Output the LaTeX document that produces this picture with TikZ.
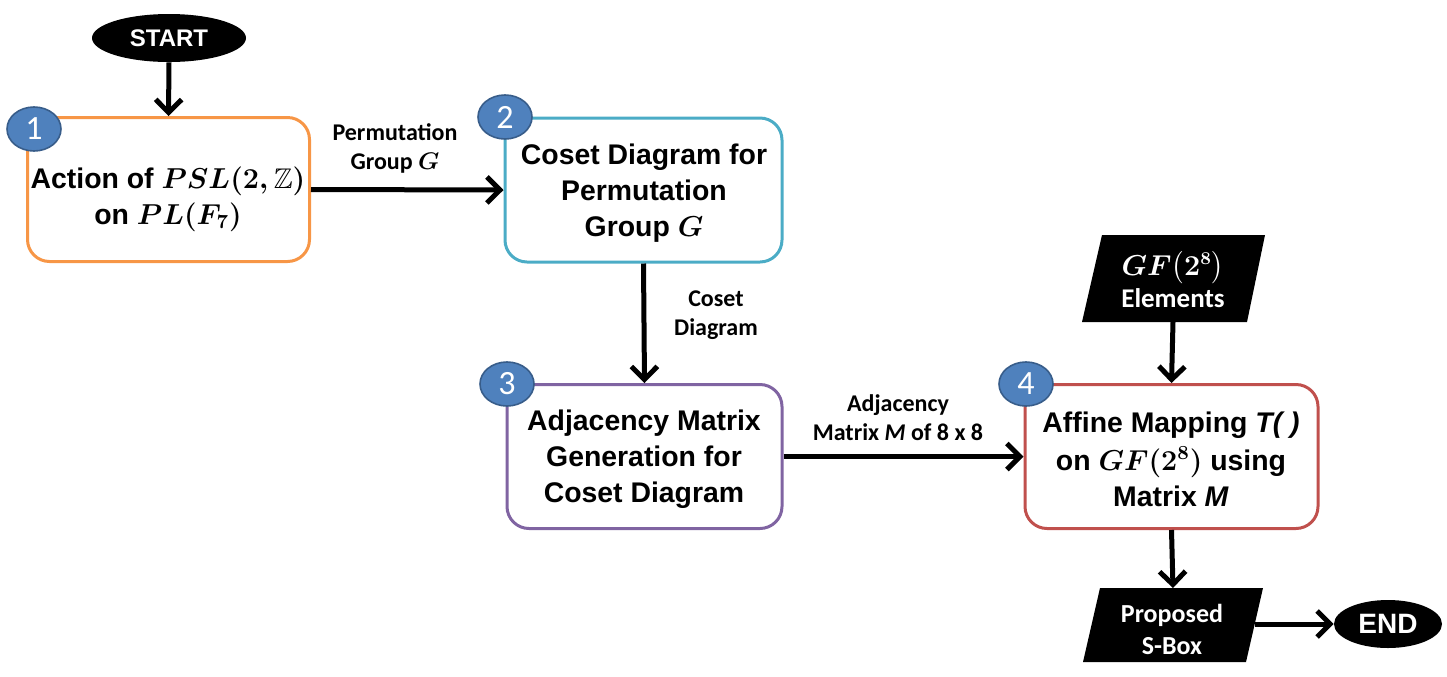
\documentclass[tikz,border=0pt]{standalone}
\usepackage{amsmath,amssymb}
\usepackage{fontspec}
\setmainfont{Liberation Sans}
\newfontfamily\calfont{Carlito}
\usetikzlibrary{arrows.meta,shapes.geometric}
\definecolor{cOrange}{HTML}{F79646}
\definecolor{cBlue}{HTML}{4BACC6}
\definecolor{cPurple}{HTML}{8064A2}
\definecolor{cRed}{HTML}{C0504D}
\definecolor{numBlue}{HTML}{4F81BD}
\definecolor{numEdge}{HTML}{385D8A}
\begin{document}
\begin{tikzpicture}[x=0.5pt,y=-0.5pt,
  proc/.style={draw, rounded corners=11pt, line width=1.5pt, fill=white,
    minimum width=141pt, minimum height=72pt, inner sep=0pt},
  proctext/.style={align=center, inner sep=0pt,
    font=\bfseries\boldmath\fontsize{14.2}{18}\selectfont},
  num/.style={ellipse, fill=numBlue, draw=numEdge, line width=0.8pt,
    minimum width=27pt, minimum height=22pt, inner sep=0pt, text=white,
    font=\calfont\fontsize{17}{17}\selectfont},
  term/.style={ellipse, fill=black, text=white, inner sep=0pt},
  io/.style={fill=black},
  iotext/.style={text=white, align=center, font=\calfont\bfseries\boldmath\fontsize{13.5}{16}\selectfont},
  lbl/.style={align=center, font=\calfont\bfseries\boldmath\fontsize{12}{14.5}\selectfont},
  arr/.style={line width=2.5pt, -{Straight Barb[length=6.5pt,width=13pt]}}
]
\useasboundingbox (0,0) rectangle (1447,676);

% terminals
\node[term, minimum width=77pt, minimum height=24pt, font=\bfseries\fontsize{12}{12}\selectfont] (start) at (169,38) {START};
\node[term, minimum width=54pt, minimum height=24pt, font=\bfseries\fontsize{14}{14}\selectfont] (end) at (1388,624) {END};

% process boxes
\node[proc, draw=cOrange] (b1) at (168.5,189.5) {};
\node[proc, draw=cBlue, minimum width=138.5pt] (b2) at (643.5,190) {};
\node[proc, draw=cPurple, minimum width=137.5pt] (b3) at (644.5,456.5) {};
\node[proc, draw=cRed, minimum width=146.5pt] (b4) at (1171.5,456.5) {};
\node[proctext] (b1t) at (168,199) {Action of $PSL(2,\mathbb{Z})$\\ on $PL(F_7)$};
\node[proctext] (b2t) at (644,193) {Coset Diagram for\\ Permutation\\ Group $G$};
\node[proctext] (b3t) at (644,459) {Adjacency Matrix\\ Generation for\\ Coset Diagram};
\node[proctext] (b4t) at (1171,459) {Affine Mapping \textit{T( )}\\[1pt] on $GF(2^8)$ using\\ Matrix \textit{M}};

% step numbers
\node[num] (n1) at (34,129) {1};
\node[num] (n2) at (505,117) {2};
\node[num] (n3) at (507,384) {3};
\node[num] (n4) at (1026,384) {4};

% input / output parallelograms
\fill[io] (1102,235) -- (1265,235) -- (1247,322) -- (1082,322) -- cycle;
\node[iotext] (gf) at (1173,279) {$GF\bigl(2^8\bigr)$\\ Elements};
\coordinate (gfB) at (1173,322);
\fill[io] (1100,588) -- (1263,588) -- (1246,662) -- (1083,662) -- cycle;
\node[iotext, font=\calfont\bfseries\fontsize{13}{16}\selectfont] (sbox) at (1172,629) {Proposed\\ S-Box};
\coordinate (sboxT) at (1173,588);
\coordinate (sboxR) at (1255,624);

% connectors
\draw[arr] (start.south) -- (b1.north);
\draw[arr] (b1.east) -- (b2.west);
\draw[arr] (b2.south) -- (b3.north);
\draw[arr] (b3.east) -- (b4.west);
\draw[arr] (gfB) -- (b4.north);
\draw[arr] (b4.south) -- (sboxT);
\draw[arr] (sboxR) -- (end.west);

% connector labels
\node[lbl] (l12) at (395,148) {Permutation\\ Group $G$};
\node[lbl] (l23) at (716,315) {Coset\\ Diagram};
\node[lbl] (l34) at (898,418) {Adjacency\\ Matrix \textit{M} of 8 x 8};
\end{tikzpicture}
\end{document}
